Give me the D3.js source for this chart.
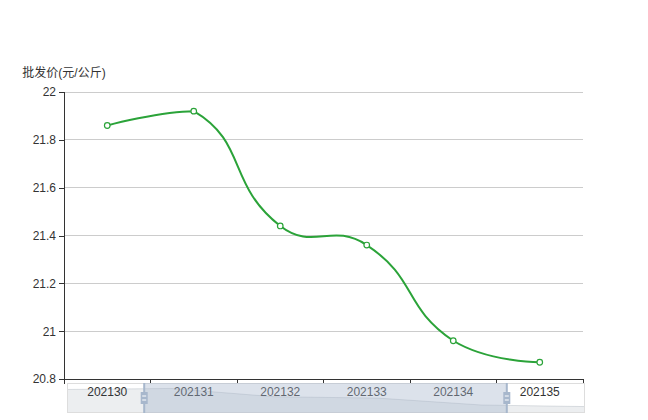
<!DOCTYPE html>
<html><head><meta charset="utf-8">
<script src="https://cdn.jsdelivr.net/npm/d3@7"></script>
<style>body{margin:0;background:#fff}svg{display:block}text{font-family:"Liberation Sans","Noto Sans CJK SC",Arial,sans-serif}</style>
</head><body><svg id="c" width="648" height="420"></svg>
<script>
const categories = ["202130","202131","202132","202133","202134","202135"];
const values = [21.86, 21.92, 21.44, 21.36, 20.96, 20.87];
const yTicks = [20.8, 21, 21.2, 21.4, 21.6, 21.8, 22];
const yName = "批发价(元/公斤)";
const zoomRange = [15, 85];

const svg = d3.select("#c");
const L = 64, R = 583, T = 92, B = 379;
const x = d3.scaleBand().domain(categories).range([L, R]);
const y = d3.scaleLinear().domain([20.8, 22]).range([B, T]);
const color = "#2ba339";
const axisColor = "#333";

// grid lines
svg.append("g").selectAll("line").data(yTicks.filter(d => d !== 20.8)).join("line")
  .attr("x1", L).attr("x2", R).attr("y1", d => y(d)).attr("y2", d => y(d))
  .attr("stroke", "#ccc").attr("shape-rendering", "crispEdges");

// y axis
const yAxis = svg.append("g").attr("transform", `translate(${L},0)`)
  .call(d3.axisLeft(y).tickValues(yTicks).tickFormat(d3.format("~g")).tickSize(5).tickPadding(3));
yAxis.select(".domain").attr("stroke", axisColor).attr("d", `M0,${B}V${T}`).attr("shape-rendering","crispEdges");
yAxis.selectAll(".tick line").attr("stroke", axisColor).attr("shape-rendering","crispEdges");
yAxis.selectAll("text").attr("fill", axisColor).attr("font-size", 12);

svg.append("text").attr("x", L).attr("y", T - 15).attr("text-anchor", "middle")
  .attr("font-size", 12).attr("fill", axisColor).text(yName);

// x axis
const xAxis = svg.append("g").attr("transform", `translate(0,${B})`)
  .call(d3.axisBottom(x).tickSize(0).tickPadding(8));
xAxis.select(".domain").attr("stroke", axisColor).attr("d", `M${L},0H${R}`).attr("shape-rendering","crispEdges");
xAxis.selectAll("text").attr("fill", axisColor).attr("font-size", 12).attr("dy", "0.75em");
const bounds = categories.map(c => x(c)).concat([R]);
xAxis.append("g").selectAll("line").data(bounds).join("line")
  .attr("x1", d => d).attr("x2", d => d).attr("y1", 0).attr("y2", 5)
  .attr("stroke", axisColor).attr("shape-rendering","crispEdges");

// ECharts-like smooth line
function smoothPath(pts, smooth) {
  const minX = d3.min(pts, p => p[0]), maxX = d3.max(pts, p => p[0]);
  const minY = d3.min(pts, p => p[1]), maxY = d3.max(pts, p => p[1]);
  const clamp = p => [Math.min(maxX, Math.max(minX, p[0])), Math.min(maxY, Math.max(minY, p[1]))];
  const path = d3.path();
  let cp0 = pts[0].slice();
  path.moveTo(pts[0][0], pts[0][1]);
  for (let i = 1; i < pts.length; i++) {
    const p = pts[i], prev = pts[i - 1], next = pts[i + 1];
    let cp1, ratio = 0.5, v = [0, 0];
    if (!next) cp1 = p.slice();
    else {
      v = [next[0] - prev[0], next[1] - prev[1]];
      const lp = Math.hypot(p[0] - prev[0], p[1] - prev[1]);
      const ln = Math.hypot(p[0] - next[0], p[1] - next[1]);
      ratio = ln / (ln + lp);
      cp1 = [p[0] - v[0] * smooth * (1 - ratio), p[1] - v[1] * smooth * (1 - ratio)];
    }
    const a = clamp(cp0), b = clamp(cp1);
    path.bezierCurveTo(a[0], a[1], b[0], b[1], p[0], p[1]);
    cp0 = [p[0] + v[0] * smooth * ratio, p[1] + v[1] * smooth * ratio];
  }
  return path.toString();
}
const pts = categories.map((c, i) => [x(c) + x.bandwidth() / 2, y(values[i])]);
svg.append("path").attr("d", smoothPath(pts, 0.5)).attr("fill", "none")
  .attr("stroke", color).attr("stroke-width", 2);
svg.append("g").selectAll("circle").data(pts).join("circle")
  .attr("cx", d => d[0]).attr("cy", d => d[1]).attr("r", 2.8)
  .attr("fill", "#fff").attr("stroke", color).attr("stroke-width", 1.2);

// dataZoom slider
const zx0 = 67, zx1 = 585, zy0 = 383, zy1 = 412;
const zg = svg.append("g");
const ext = d3.extent(values), off = (ext[1] - ext[0]) * 0.3;
const sx = d3.scalePoint().domain(categories).range([zx0, zx1]);
const sy = d3.scaleLinear().domain([ext[0] - off, ext[1] + off]).range([zy1, zy0]);
const area = d3.area().x((d, i) => sx(categories[i])).y0(zy1).y1(d => sy(d));
const line = d3.line().x((d, i) => sx(categories[i])).y(d => sy(d));
zg.append("path").attr("d", area(values)).attr("fill", "rgba(47,69,84,0.09)");
zg.append("path").attr("d", line(values)).attr("fill", "none").attr("stroke", "rgba(47,69,84,0.3)").attr("stroke-width", 0.5);
zg.append("rect").attr("x", zx0 + 0.5).attr("y", zy0 + 0.5).attr("width", zx1 - zx0 - 1).attr("height", zy1 - zy0)
  .attr("fill", "none").attr("stroke", "#ddd");
const pz = d3.scaleLinear().domain([0, 100]).range([zx0, zx1]);
const hx0 = pz(zoomRange[0]) - 0.5, hx1 = pz(zoomRange[1]) - 0.5;
zg.append("rect").attr("x", hx0).attr("y", zy0).attr("width", hx1 - hx0).attr("height", zy1 - zy0 + 1)
  .attr("fill", "rgba(167,183,204,0.4)");
[hx0, hx1].forEach(hx => {
  const h = zg.append("g").attr("transform", `translate(${hx},${zy0})`);
  h.append("rect").attr("x", -1).attr("y", 0).attr("width", 2).attr("height", zy1 - zy0 + 1).attr("fill", "#a7b7cc");
  h.append("rect").attr("x", -3.5).attr("y", 9).attr("width", 7).attr("height", 12).attr("fill", "#a7b7cc");
  h.append("rect").attr("x", -2).attr("y", 12.5).attr("width", 4).attr("height", 1).attr("fill", "#fff");
  h.append("rect").attr("x", -2).attr("y", 16.5).attr("width", 4).attr("height", 1).attr("fill", "#fff");
});
</script></body></html>
